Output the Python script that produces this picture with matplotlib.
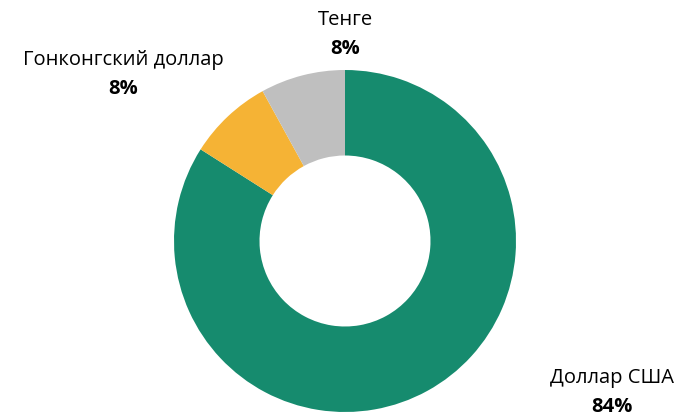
import matplotlib
matplotlib.use("Agg")
import matplotlib.pyplot as plt

categories = ["Доллар США", "Гонконгский доллар", "Тенге"]
values = [84, 8, 8]
colors = ["#168B6E", "#F5B335", "#BFBFBF"]
pct_labels = ["84%", "8%", "8%"]
# label anchor positions in pixel coordinates (top-left origin)
label_pos = [(612, 378), (123, 60), (345, 20)]

W, H = 682, 412
fig = plt.figure(figsize=(W / 100, H / 100), dpi=100)
ax = fig.add_axes([0, 0, 1, 1])

cx, cy, R = 345, 241, 171
ax.pie(values, colors=colors, startangle=90, counterclock=False,
       center=(cx, H - cy), radius=R,
       wedgeprops=dict(width=R * 0.5, linewidth=0))
ax.set_xlim(0, W)
ax.set_ylim(0, H)
ax.set_aspect("equal")
ax.axis("off")

font = ["Open Sans", "DejaVu Sans"]
for cat, pct, (x, y) in zip(categories, pct_labels, label_pos):
    ax.text(x, H - y, cat, ha="center", va="center", fontsize=14.5,
            family=font, color="#000000")
    ax.text(x, H - y - 29, pct, ha="center", va="center", fontsize=14.5,
            family=font, fontweight="bold", color="#000000")

fig.savefig("out.png", dpi=100)
